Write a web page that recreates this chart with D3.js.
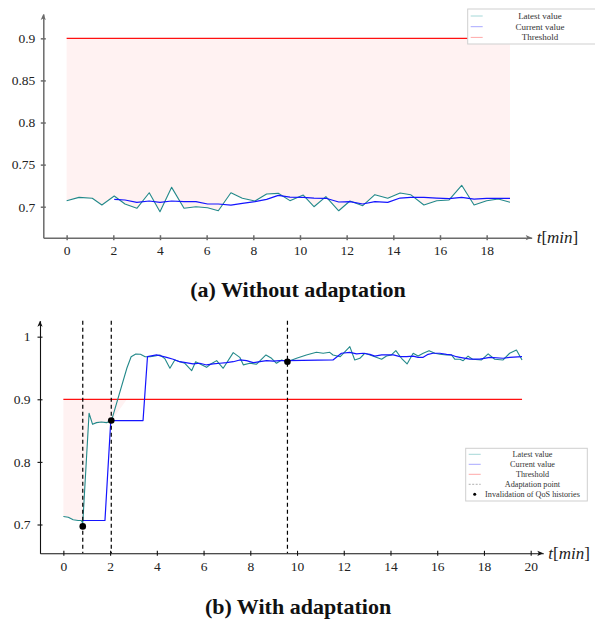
<!DOCTYPE html>
<html>
<head>
<meta charset="utf-8">
<script src="https://cdn.jsdelivr.net/npm/d3@7"></script>
<style>
  body { margin: 0; background: #fff; }
  svg { display: block; }
  svg text { font-family: "Liberation Serif", "DejaVu Serif", serif; }
</style>
</head>
<body>
<svg id="chart" width="595" height="624"></svg>
<script>
// ---- (a) Without adaptation ----
const topTimes = [0, 0.53, 1.1, 1.51, 2.04, 2.5, 3.01, 3.54, 4.0, 4.5,
  5.03, 5.54, 6.04, 6.5, 7.04, 7.53, 8.07, 8.57, 9.07, 9.57,
  10.14, 10.6, 11.11, 11.66, 12.14, 12.69, 13.21, 13.76, 14.29, 14.74,
  15.31, 15.86, 16.39, 16.93, 17.46, 18.0, 18.5, 19.0];
const topLatest = [0.7071, 0.7111, 0.710, 0.702, 0.7127, 0.7032, 0.6981, 0.7166, 0.6941, 0.7230,
  0.6981, 0.700, 0.6988, 0.6952, 0.7166, 0.710, 0.7068, 0.7151, 0.7159, 0.7072,
  0.7139, 0.700, 0.7119, 0.6952, 0.7068, 0.7012, 0.7143, 0.710, 0.7163, 0.7143,
  0.702, 0.7071, 0.708, 0.7254, 0.702, 0.7071, 0.7091, 0.7052];
// current value only starts after a couple of minutes
const topCurrent = [null, null, null, null, 0.7088, 0.708, 0.7052, 0.7068, 0.7052, 0.7068,
  0.706, 0.706, 0.7032, 0.7032, 0.702, 0.704, 0.706, 0.7088, 0.7135, 0.7115,
  0.7111, 0.7103, 0.710, 0.7056, 0.706, 0.7032, 0.706, 0.7052, 0.7103, 0.7111,
  0.7111, 0.7103, 0.7095, 0.7111, 0.7091, 0.710, 0.710, 0.710];
const topThreshold = 0.9;
const topXTicks = [0, 2, 4, 6, 8, 10, 12, 14, 16, 18];
const topYTicks = [0.7, 0.75, 0.8, 0.85, 0.9];

// ---- (b) With adaptation ----
const botLatestTimes = [0, 0.21, 0.42, 0.63, 0.77, 0.83, 1.1, 1.25, 1.42, 1.63,
  1.85, 2.06, 2.72, 2.9, 3.1, 3.3, 3.5, 3.72, 3.92, 4.13,
  4.34, 4.56, 4.77, 4.98, 5.2, 5.49, 5.66, 6.13, 6.31, 6.56,
  6.84, 7.27, 7.55, 7.7, 7.98, 8.27, 8.67, 8.91, 9.12, 9.34,
  9.58, 9.98, 10.4, 10.83, 11.12, 11.4, 11.54, 11.85, 12.26, 12.47,
  12.69, 12.9, 13.12, 13.33, 13.62, 13.83, 14.04, 14.23, 14.47, 14.71,
  14.97, 15.18, 15.4, 15.65, 15.9, 16.11, 16.4, 16.61, 16.75, 16.97,
  17.11, 17.32, 17.51, 17.9, 18.18, 18.46, 18.82, 19.1, 19.39, 19.63];
const botLatest = [0.7128, 0.7117, 0.7075, 0.7064, 0.7064, 0.702, 0.8777, 0.860, 0.8627, 0.8638,
  0.8627, 0.8659, 0.950, 0.968, 0.9724, 0.9718, 0.968, 0.968, 0.969, 0.9708,
  0.965, 0.9495, 0.9628, 0.960, 0.9575, 0.9457, 0.960, 0.951, 0.9564, 0.9617,
  0.9495, 0.9745, 0.967, 0.955, 0.9575, 0.956, 0.9708, 0.9655, 0.9575, 0.9628,
  0.960, 0.9655, 0.9708, 0.975, 0.9735, 0.975, 0.9708, 0.968, 0.984, 0.9628,
  0.9655, 0.9735, 0.9708, 0.968, 0.964, 0.969, 0.9708, 0.9777, 0.9655, 0.9564,
  0.9735, 0.969, 0.9735, 0.9777, 0.9735, 0.9718, 0.9708, 0.9708, 0.964, 0.964,
  0.9617, 0.969, 0.964, 0.9628, 0.9724, 0.964, 0.9628, 0.9735, 0.9787, 0.9628];
const botCurrentTimes = [0.83, 1.78, 2.03, 3.41, 3.6, 3.99, 4.42, 4.7, 4.98, 5.55,
  5.84, 6.13, 6.41, 6.7, 6.98, 7.27, 7.55, 7.84, 8.12, 8.41,
  8.7, 8.98, 9.27, 9.58, 11.54, 11.9, 12.26, 12.55, 12.83, 13.12,
  13.33, 13.62, 13.83, 14.12, 14.41, 14.69, 14.97, 15.18, 15.4, 15.61,
  15.82, 16.11, 16.4, 16.61, 16.82, 16.97, 17.4, 17.82, 18.25, 18.82,
  19.1, 19.63];
const botCurrent = [0.7064, 0.7064, 0.866, 0.866, 0.968, 0.9708, 0.967, 0.964, 0.960, 0.9564,
  0.9575, 0.9548, 0.9564, 0.9575, 0.9585, 0.960, 0.9628, 0.9617, 0.9585, 0.960,
  0.9617, 0.961, 0.9617, 0.9617, 0.9628, 0.9735, 0.975, 0.9724, 0.9735, 0.9718,
  0.969, 0.9708, 0.9708, 0.9708, 0.968, 0.968, 0.969, 0.967, 0.967, 0.9718,
  0.9735, 0.9735, 0.9718, 0.9708, 0.968, 0.967, 0.964, 0.964, 0.967, 0.9655,
  0.967, 0.968];
const botThreshold = 0.9;
const adaptTimes = [0.83, 2.05, 9.59];          // dashed verticals + dots
const invalidValues = [0.697, 0.866, 0.960];
const botXTicks = [0, 2, 4, 6, 8, 10, 12, 14, 16, 18, 20];
const botYTicks = [0.7, 0.8, 0.9, 1];

const legendA = ['Latest value', 'Current value', 'Threshold'];
const legendB = ['Latest value', 'Current value', 'Threshold', 'Adaptation point', 'Invalidation of QoS histories'];

const TEAL = '#23898a', BLUE = '#1414ff', RED = '#ff1010', PINK = '#fff2f2';
const SERIF = '"Liberation Serif", "DejaVu Serif", serif';

class QosChart {
    constructor(_config, _data) {
        this.config = _config;
        this.data = _data;
    }

    initVis() {
        let vis = this;
        let c = vis.config;
        vis.svg = d3.select('#chart').append('g');

        vis.x = d3.scaleLinear().domain(c.xDomain).range(c.xRange);
        vis.y = d3.scaleLinear().domain(c.yDomain).range(c.yRange);

        let latest = vis.data.latestT.map((t, i) => ({ t: t, v: vis.data.latest[i] }));
        let current = vis.data.currentT.map((t, i) => ({ t: t, v: vis.data.current[i] }));
        let thr = vis.data.threshold;

        // pink area between threshold and the latest value (only where it is below)
        vis.svg.append('path')
            .datum(latest)
            .attr('fill', PINK)
            .attr('d', d3.area()
                .x(d => vis.x(d.t))
                .y0(vis.y(thr))
                .y1(d => vis.y(Math.min(d.v, thr))));

        // threshold line over the same time span
        let tExt = d3.extent(vis.data.latestT);
        vis.svg.append('line')
            .attr('x1', vis.x(tExt[0])).attr('x2', vis.x(tExt[1]))
            .attr('y1', vis.y(thr)).attr('y2', vis.y(thr))
            .attr('stroke', RED).attr('stroke-width', 1.2);

        vis.svg.append('path')
            .datum(latest)
            .attr('fill', 'none').attr('stroke', TEAL).attr('stroke-width', 1.1)
            .attr('stroke-linejoin', 'round')
            .attr('d', d3.line().x(d => vis.x(d.t)).y(d => vis.y(d.v)));

        vis.svg.append('path')
            .datum(current)
            .attr('fill', 'none').attr('stroke', BLUE).attr('stroke-width', 1.2)
            .attr('stroke-linejoin', 'round')
            .attr('d', d3.line().defined(d => d.v != null).x(d => vis.x(d.t)).y(d => vis.y(d.v)));

        // adaptation points (only on the second chart)
        if (vis.data.adapt) {
            let yTop = c.yRange[1], yBot = c.yRange[0];
            vis.svg.selectAll('.adapt')
                .data(vis.data.adapt)
                .join('line')
                .attr('x1', d => vis.x(d)).attr('x2', d => vis.x(d))
                .attr('y1', yTop).attr('y2', yBot)
                .attr('stroke', '#000').attr('stroke-width', 1.2)
                .attr('stroke-dasharray', '4,3');
            vis.svg.selectAll('.inval')
                .data(vis.data.adapt.map((t, i) => ({ t: t, v: vis.data.invalid[i] })))
                .join('circle')
                .attr('cx', d => vis.x(d.t)).attr('cy', d => vis.y(d.v))
                .attr('r', 3.3).attr('fill', '#000');
        }

        vis.drawAxes();
        vis.drawLegend();
    }

    drawAxes() {
        let vis = this;
        let c = vis.config;
        let x0 = c.xRange[0], y0 = c.yRange[0];

        let xAxis = vis.svg.append('g')
            .attr('transform', `translate(0,${y0})`)
            .call(d3.axisBottom(vis.x).tickValues(c.xTicks).tickSizeOuter(0).tickFormat(d => String(d)));
        let yAxis = vis.svg.append('g')
            .attr('transform', `translate(${x0},0)`)
            .call(d3.axisLeft(vis.y).tickValues(c.yTicks).tickSizeOuter(0).tickFormat(d => String(d)));

        // d3 puts sans-serif on the axis group, drop it
        [xAxis, yAxis].forEach(a => a.attr('font-family', SERIF).attr('font-size', 13.5));

        // ticks cross the axis line, like pgfplots
        xAxis.selectAll('.tick line').attr('y1', -2.5).attr('y2', 2.5).attr('stroke', c.axisColor);
        yAxis.selectAll('.tick line').attr('x1', -2.5).attr('x2', 2.5).attr('stroke', c.axisColor);
        xAxis.selectAll('.domain, .tick line').attr('stroke-width', c.axisWidth);
        yAxis.selectAll('.domain, .tick line').attr('stroke-width', c.axisWidth);
        xAxis.select('.domain').attr('stroke', c.axisColor);
        yAxis.select('.domain').attr('stroke', c.axisColor);

        xAxis.selectAll('.tick text').attr('y', 8).attr('fill', '#222');
        yAxis.selectAll('.tick text').attr('x', -c.yLabelGap).attr('fill', '#222');

        // arrow heads
        let xe = c.xRange[1], ye = c.yRange[1];
        vis.svg.append('path')
            .attr('d', `M${xe},${y0} L${xe - 6},${y0 - 2.6} L${xe - 4.5},${y0} L${xe - 6},${y0 + 2.6} Z`)
            .attr('fill', c.axisColor);
        vis.svg.append('path')
            .attr('d', `M${x0},${ye} L${x0 - 2.6},${ye + 6} L${x0},${ye + 4.5} L${x0 + 2.6},${ye + 6} Z`)
            .attr('fill', c.axisColor);

        // t[min]
        let lab = vis.svg.append('text')
            .attr('x', xe + 5).attr('y', y0 + 5.5)
            .attr('fill', '#222')
            .attr('font-family', SERIF)
            .attr('font-size', 17);
        lab.append('tspan').attr('font-style', 'italic').text('t');
        lab.append('tspan').text('[');
        lab.append('tspan').attr('font-style', 'italic').text('min');
        lab.append('tspan').text(']');

        vis.svg.append('text')
            .attr('x', 298).attr('y', c.captionY)
            .attr('text-anchor', 'middle')
            .attr('font-weight', 'bold')
            .attr('font-family', SERIF)
            .attr('fill', '#111')
            .attr('font-size', 22)
            .text(c.caption);
    }

    drawLegend() {
        let vis = this;
        let L = vis.config.legend;
        let g = vis.svg.append('g');
        g.append('rect')
            .attr('x', L.x).attr('y', L.y).attr('width', L.w).attr('height', L.h)
            .attr('fill', '#fff').attr('stroke', '#cfcfcf').attr('stroke-width', 1);

        let swatch = ['#a5d8d8', '#a8a8ff', '#ffa8a8', '#9a9a9a', '#000'];
        L.items.forEach((name, i) => {
            let cy = L.y + L.first + i * L.step;
            if (i < 3) {
                g.append('line').attr('x1', L.x + 3).attr('x2', L.x + 15)
                    .attr('y1', cy).attr('y2', cy)
                    .attr('stroke', swatch[i]).attr('stroke-width', 1);
            } else if (i === 3) {
                g.append('line').attr('x1', L.x + 3).attr('x2', L.x + 15)
                    .attr('y1', cy).attr('y2', cy)
                    .attr('stroke', swatch[i]).attr('stroke-width', 0.8)
                    .attr('stroke-dasharray', '2,1.5');
            } else {
                g.append('circle').attr('cx', L.x + 9).attr('cy', cy).attr('r', 1.5).attr('fill', '#000');
            }
            g.append('text')
                .attr('x', L.textX).attr('y', cy)
                .attr('dy', '0.33em')
                .attr('text-anchor', 'middle')
                .attr('fill', '#333')
                .attr('font-family', SERIF)
                .attr('font-size', L.font)
                .text(name);
        });
    }
}

let chartA = new QosChart({
    xDomain: [-1, 19.93], xRange: [43.3, 531.7],
    yDomain: [0.6632, 0.9289], yRange: [237.7, 14],
    xTicks: topXTicks, yTicks: topYTicks,
    axisColor: '#6b6b6b', axisWidth: 1.5, yLabelGap: 8,
    caption: '(a) Without adaptation', captionY: 297,
    legend: { x: 467.7, y: 9, w: 140, h: 35, first: 7, step: 10.7, textX: 540, font: 9, items: legendA }
}, { latestT: topTimes, latest: topLatest, currentT: topTimes, current: topCurrent, threshold: topThreshold });
chartA.initVis();

let chartB = new QosChart({
    xDomain: [-1.0, 20.54], xRange: [40, 543.3],
    yDomain: [0.654, 1.0255], yRange: [553.3, 320.7],
    xTicks: botXTicks, yTicks: botYTicks,
    axisColor: '#111', axisWidth: 1.1, yLabelGap: 9.5,
    caption: '(b) With adaptation', captionY: 614,
    legend: { x: 465.7, y: 448.3, w: 121.6, h: 52.7, first: 6, step: 10, textX: 532.5, font: 8.2, items: legendB }
}, { latestT: botLatestTimes, latest: botLatest, currentT: botCurrentTimes, current: botCurrent,
     threshold: botThreshold, adapt: adaptTimes, invalid: invalidValues });
chartB.initVis();
</script>
</body>
</html>
